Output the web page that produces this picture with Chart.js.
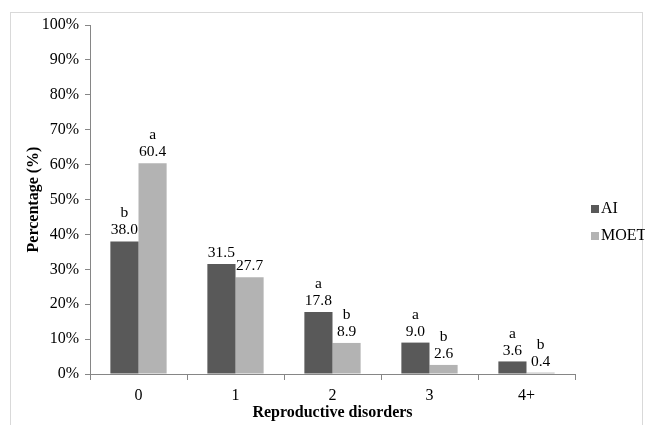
<!DOCTYPE html>
<html>
<head>
<meta charset="utf-8">
<script src="https://cdn.jsdelivr.net/npm/chart.js@4/dist/chart.umd.min.js"></script>
<style>
  body { margin: 0; background: #fff; }
  #wrap { width: 645px; height: 425px; position: relative; }
</style>
</head>
<body>
<div id="wrap"><canvas id="chart" width="645" height="425"></canvas></div>
<script>
// values
const categories = ['0', '1', '2', '3', '4+'];
const aiValues = [38.0, 31.5, 17.8, 9.0, 3.6];
const moetValues = [60.4, 27.7, 8.9, 2.6, 0.4];
const aiLetters = ['b', '', 'a', 'a', 'a'];
const moetLetters = ['a', '', 'b', 'b', 'b'];
const yTicks = [0, 10, 20, 30, 40, 50, 60, 70, 80, 90, 100];

const serif = 'Liberation Serif, Times New Roman, serif';
const axisGray = '#868686';

// white page + thin frame like the original figure
const framePlugin = {
    id: 'frame',
    beforeDraw(chart) {
        const ctx = chart.ctx;
        ctx.save();
        ctx.fillStyle = '#fff';
        ctx.fillRect(0, 0, chart.width, chart.height);
        ctx.strokeStyle = '#d9d9d9';
        ctx.lineWidth = 1;
        ctx.strokeRect(10.5, 12.5, 632, 430);
        ctx.restore();
    }
};

// value + significance letter above each bar
const labelPlugin = {
    id: 'barLabels',
    afterDatasetsDraw(chart) {
        const ctx = chart.ctx;
        ctx.save();
        ctx.fillStyle = '#000';
        ctx.textAlign = 'center';
        ctx.textBaseline = 'middle';
        ctx.font = '15.5px ' + serif;
        chart.data.datasets.forEach((ds, di) => {
            const meta = chart.getDatasetMeta(di);
            meta.data.forEach((bar, i) => {
                const y = bar.y - 11;
                ctx.fillText(ds.data[i].toFixed(1), bar.x, y);
                if (ds.letters[i]) ctx.fillText(ds.letters[i], bar.x, y - 17);
            });
        });
        ctx.restore();
    }
};

// legend on the right, Excel style
const legendPlugin = {
    id: 'sideLegend',
    afterDraw(chart) {
        const ctx = chart.ctx;
        ctx.save();
        ctx.font = '16px ' + serif;
        ctx.textBaseline = 'middle';
        ctx.textAlign = 'left';
        chart.data.datasets.forEach((ds, i) => {
            const y = 209 + i * 27;
            ctx.fillStyle = ds.backgroundColor;
            ctx.fillRect(591, y - 4, 8, 8);
            ctx.fillStyle = '#000';
            ctx.fillText(ds.label, 601, y);
        });
        ctx.restore();
    }
};

const ctx = document.getElementById('chart').getContext('2d');
const myChart = new Chart(ctx, {
    type: 'bar',
    data: {
        labels: categories,
        datasets: [{
            label: 'AI',
            data: aiValues,
            letters: aiLetters,
            backgroundColor: '#595959',
            categoryPercentage: 0.58,
            barPercentage: 1.0
        }, {
            label: 'MOET',
            data: moetValues,
            letters: moetLetters,
            backgroundColor: '#b3b3b3',
            categoryPercentage: 0.58,
            barPercentage: 1.0
        }]
    },
    options: {
        responsive: false,
        animation: false,
        layout: { padding: { left: 24, top: 25, right: 70, bottom: 0 } },
        plugins: {
            legend: { display: false },
            tooltip: { enabled: false }
        },
        scales: {
            x: {
                grid: {
                    drawOnChartArea: false,
                    drawTicks: true,
                    tickLength: 6,
                    color: axisGray
                },
                border: { color: axisGray },
                ticks: {
                    color: '#000',
                    padding: 6,
                    font: { family: serif, size: 16 }
                },
                title: {
                    display: true,
                    text: 'Reproductive disorders',
                    color: '#000',
                    padding: { top: 0, bottom: 3 },
                    font: { family: serif, size: 16, weight: 'bold' }
                },
                afterFit(scale) { scale.height = 51; }
            },
            y: {
                min: 0,
                max: 100,
                afterBuildTicks(scale) {
                    scale.ticks = yTicks.map(v => ({ value: v }));
                },
                grid: {
                    drawOnChartArea: false,
                    drawTicks: true,
                    tickLength: 5,
                    color: axisGray
                },
                border: { color: axisGray },
                ticks: {
                    color: '#000',
                    padding: 6,
                    font: { family: serif, size: 16 },
                    callback: function(value) {
                        return value + '%';
                    }
                },
                title: {
                    display: true,
                    text: 'Percentage (%)',
                    color: '#000',
                    padding: { top: 0, bottom: 4 },
                    font: { family: serif, size: 16, weight: 'bold' }
                },
                afterFit(scale) { scale.width = 66; }
            }
        }
    },
    plugins: [framePlugin, labelPlugin, legendPlugin]
});
</script>
</body>
</html>
